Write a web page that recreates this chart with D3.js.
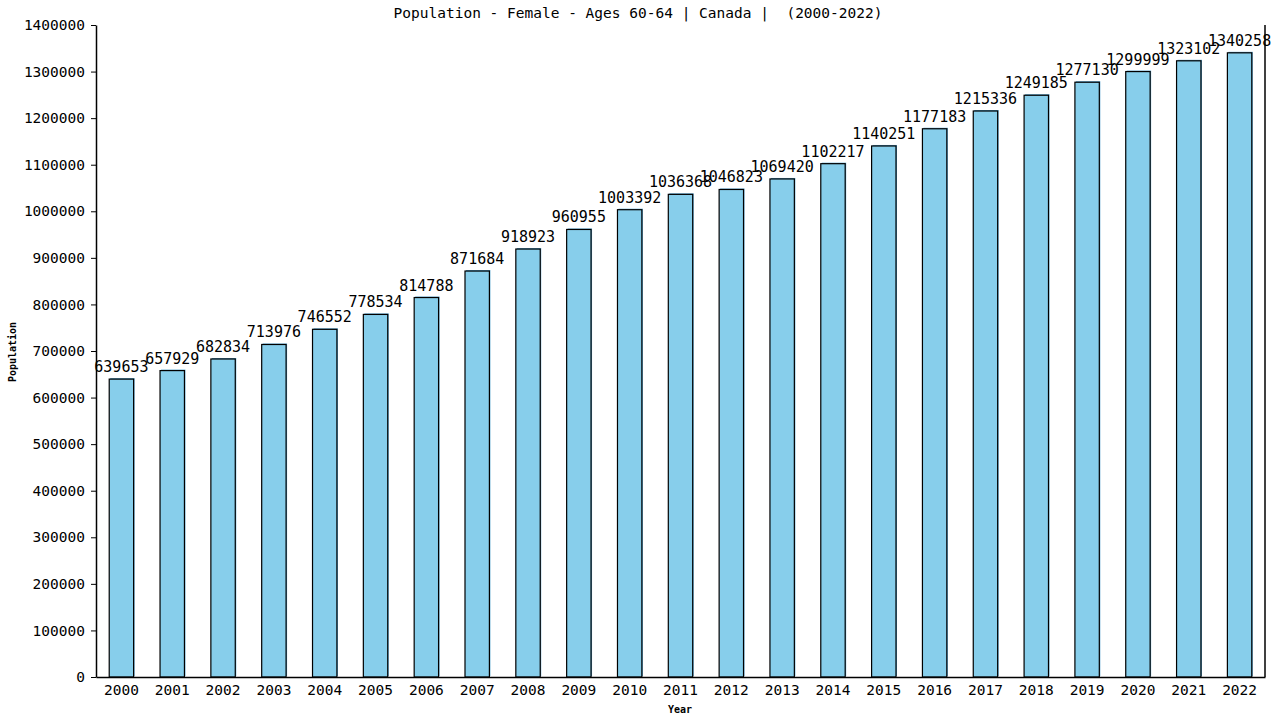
<!DOCTYPE html>
<html>
<head>
<meta charset="utf-8">
<script src="https://cdn.jsdelivr.net/npm/d3@7"></script>
<style>
  body { margin: 0; background: #fff; }
  text { font-family: "DejaVu Sans Mono", monospace; white-space: pre; }
</style>
</head>
<body>
<script>
// data
const years = ["2000","2001","2002","2003","2004","2005","2006","2007","2008","2009","2010","2011",
               "2012","2013","2014","2015","2016","2017","2018","2019","2020","2021","2022"];
const population = [639653, 657929, 682834, 713976, 746552, 778534, 814788, 871684, 918923, 960955,
                    1003392, 1036368, 1046823, 1069420, 1102217, 1140251, 1177183, 1215336, 1249185,
                    1277130, 1299999, 1323102, 1340258];
const yTicks = [0,100000,200000,300000,400000,500000,600000,700000,800000,900000,1000000,
                1100000,1200000,1300000,1400000];

const W = 1280, H = 720;
const mLeft = 96, mRight = 1265, mTop = 25, mBottom = 677;

const svg = d3.select("body").append("svg")
    .attr("width", W).attr("height", H);

const x = d3.scaleBand().domain(years).range([mLeft, mRight]).paddingInner(0.52).paddingOuter(0.26);
const y = d3.scaleLinear().domain([0, 1400000]).range([mBottom, mTop]);

// title
svg.append("text")
    .attr("x", 638).attr("y", 18)
    .attr("text-anchor", "middle")
    .style("font-size", "14.5px")
    .text("Population - Female - Ages 60-64 | Canada |  (2000-2022)");

// bars: soft blue shadow then the bar
const bars = svg.append("g");
bars.selectAll("rect.shadow")
    .data(population)
    .enter().append("rect")
    .attr("class", "shadow")
    .attr("x", (d, i) => x(years[i]) + 1)
    .attr("y", d => y(d) - 1)
    .attr("width", x.bandwidth())
    .attr("height", d => mBottom - y(d))
    .attr("fill", "#5aa6d0");
bars.selectAll("rect.bar")
    .data(population)
    .enter().append("rect")
    .attr("class", "bar")
    .attr("x", (d, i) => x(years[i]))
    .attr("y", d => y(d))
    .attr("width", x.bandwidth())
    .attr("height", d => mBottom - y(d))
    .attr("fill", "#87ceeb")
    .attr("stroke", "#000")
    .attr("stroke-width", 1.2);

// value labels
svg.append("g").selectAll("text")
    .data(population)
    .enter().append("text")
    .attr("x", (d, i) => x(years[i]) + x.bandwidth() / 2)
    .attr("y", d => y(d) - 7)
    .attr("text-anchor", "middle")
    .style("font-size", "15px")
    .text(d => d);

// y axis
const yAxis = svg.append("g")
    .attr("transform", `translate(${mLeft},0)`)
    .call(d3.axisLeft(y).tickValues(yTicks).tickFormat(d3.format("d")).tickSize(5).tickSizeOuter(0));
yAxis.selectAll("text").style("font-size", "14.5px").attr("x", -11);
yAxis.select(".domain").attr("stroke-width", 1.5);

// x axis
const xAxis = svg.append("g")
    .attr("transform", `translate(0,${mBottom})`)
    .call(d3.axisBottom(x).tickSize(0).tickSizeOuter(0));
xAxis.selectAll("text").style("font-size", "14.5px").attr("dy", "1.05em");
xAxis.select(".domain").attr("stroke-width", 1.5);

// right frame line
svg.append("line")
    .attr("x1", mRight).attr("x2", mRight)
    .attr("y1", mTop).attr("y2", mBottom)
    .attr("stroke", "#000").attr("stroke-width", 1.5);

// axis titles
svg.append("text")
    .attr("x", 680).attr("y", 713)
    .attr("text-anchor", "middle")
    .style("font-size", "10px").style("font-weight", "bold")
    .text("Year");
svg.append("text")
    .attr("transform", "translate(16,352) rotate(-90)")
    .attr("text-anchor", "middle")
    .style("font-size", "10px").style("font-weight", "bold")
    .text("Population");
</script>
</body>
</html>
